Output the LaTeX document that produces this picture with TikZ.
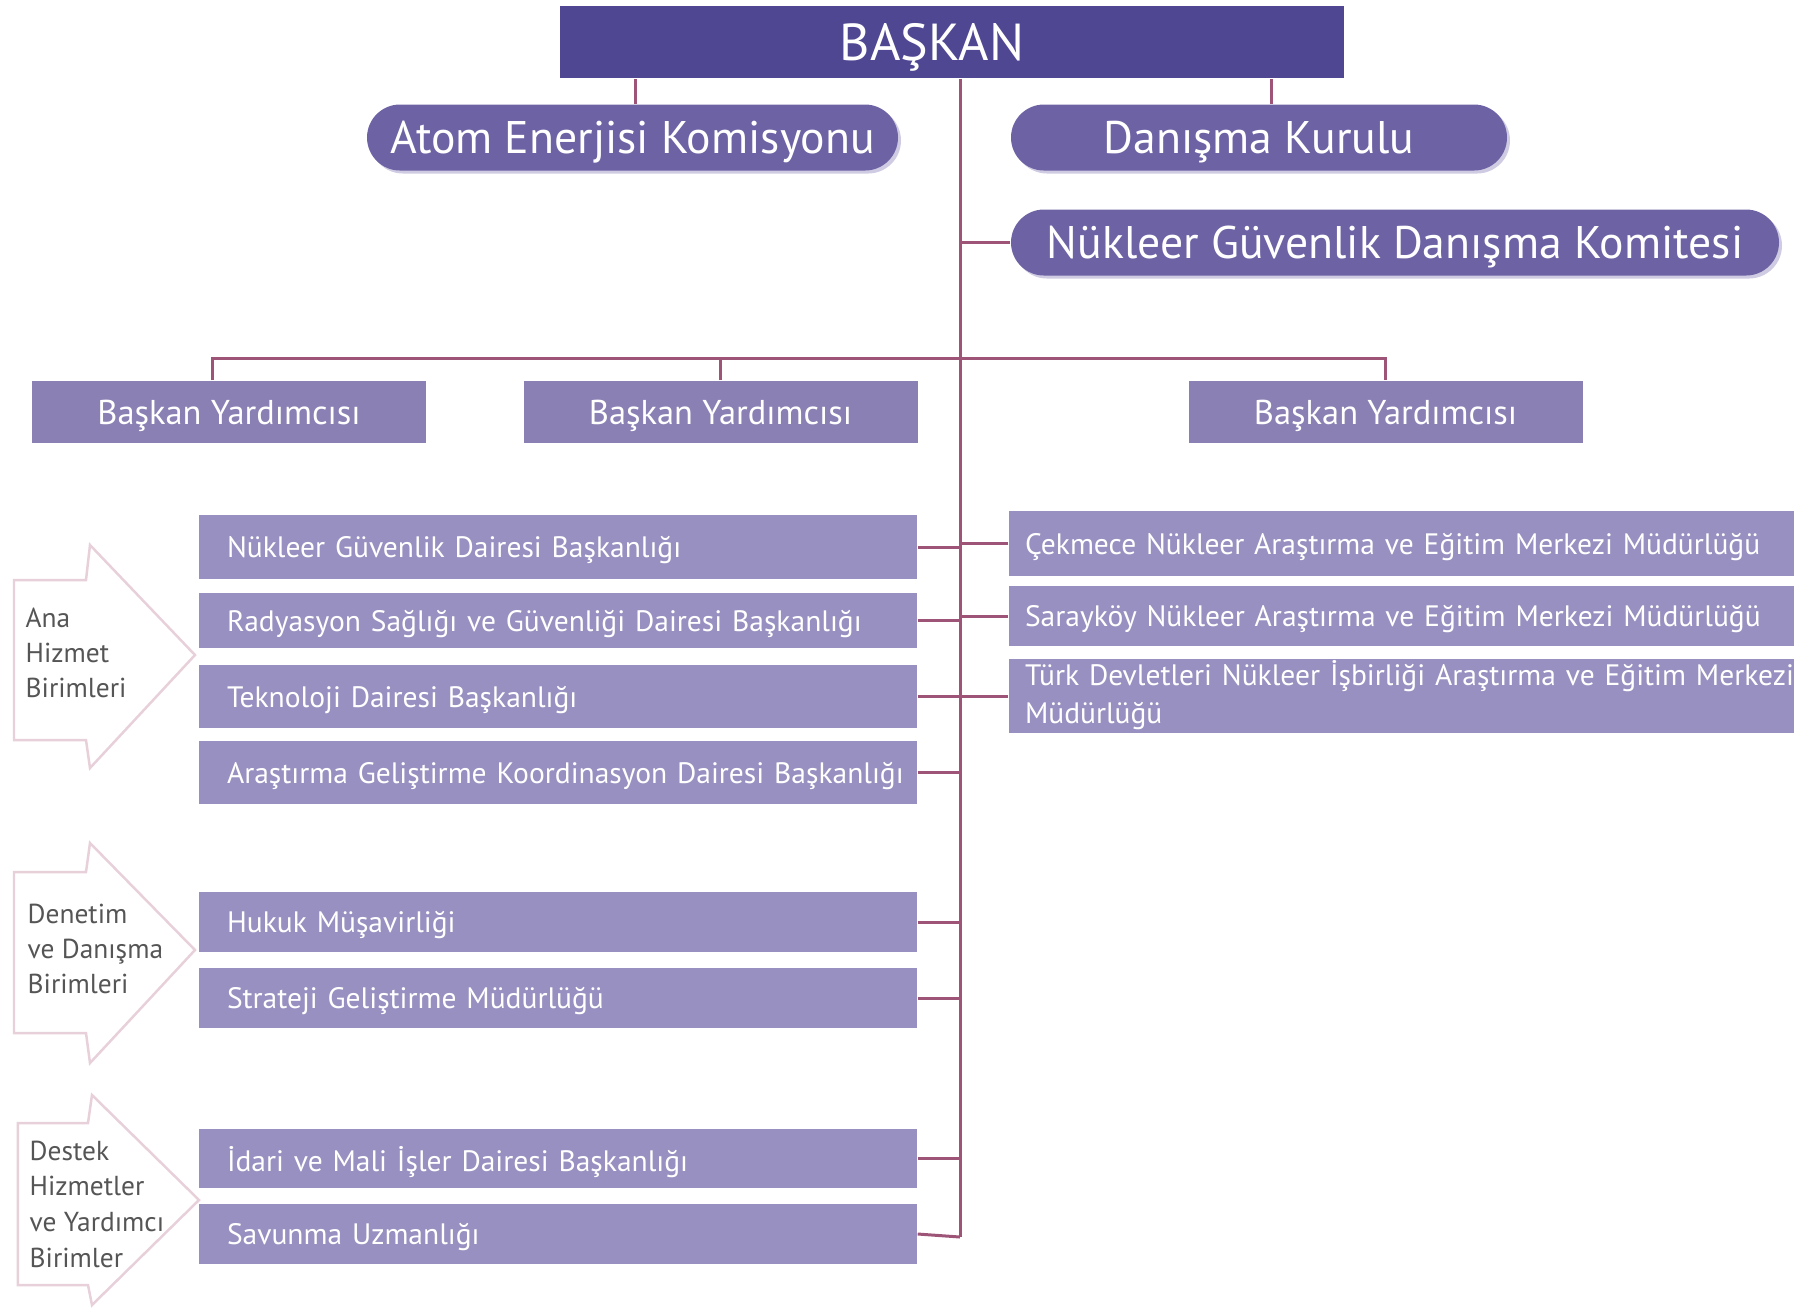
\documentclass[tikz,border=0pt]{standalone}
\usepackage{fontspec}
\setmainfont{PT Sans}
\usetikzlibrary{shadows}
\definecolor{chief}{RGB}{79,71,146}
\definecolor{boardfill}{RGB}{108,98,164}
\definecolor{deputyfill}{RGB}{138,128,180}
\definecolor{unitfill}{RGB}{152,144,192}
\definecolor{wirecol}{RGB}{158,84,118}
\definecolor{halo}{RGB}{207,203,226}
\definecolor{flagline}{RGB}{232,208,218}
\definecolor{flagtext}{RGB}{85,85,85}
\begin{document}
\begin{tikzpicture}
  \tikzstyle{every node}+=[inner sep=0pt, text=white, text depth=0pt]
  \tikzstyle{wire}=[wirecol, line width=0.03cm]
  \tikzstyle{flag}=[draw=flagline, line width=0.025cm]
  \tikzstyle{chiefbox}=[fill=chief, minimum width=7.84cm, minimum height=0.72cm, font=\fontsize{14.8}{17}\selectfont]
  \tikzstyle{boardbox}=[fill=boardfill, rounded corners=0.33cm, minimum height=0.66cm, font=\fontsize{13}{15}\selectfont,
    drop shadow={shadow xshift=0.03cm, shadow yshift=-0.03cm, fill=halo, opacity=1}]
  \tikzstyle{deputybox}=[fill=deputyfill, minimum width=3.94cm, minimum height=0.62cm, font=\fontsize{9.8}{11}\selectfont]
  \tikzstyle{unitbox}=[fill=unitfill, text width=6.62cm, inner xsep=0.28cm, align=left, font=\fontsize{8.4}{10.5}\selectfont]
  \tikzstyle{centrebox}=[fill=unitfill, text width=7.53cm, inner xsep=0.16cm, align=left, font=\fontsize{8.4}{10.8}\selectfont]
  \tikzstyle{flagtext}=[text=flagtext, align=left, anchor=north west, font=\fontsize{7.8}{10}\selectfont]
  \useasboundingbox (0,0) rectangle (18.09,-13.12);
  \node [chiefbox] (baskan) at (9.52,-0.42) {BAŞKAN\hspace*{0.4cm}};
  \node [boardbox, minimum width=5.31cm] (aek) at (6.325,-1.375) {Atom Enerjisi Komisyonu};
  \node [boardbox, minimum width=4.96cm] (dk) at (12.59,-1.375) {Danışma Kurulu};
  \node [boardbox, minimum width=7.68cm] (ngdk) at (13.95,-2.425) {Nükleer Güvenlik Danışma Komitesi};
  \node [deputybox] (by1) at (2.29,-4.12) {Başkan Yardımcısı};
  \node [deputybox] (by2) at (7.205,-4.12) {Başkan Yardımcısı};
  \node [deputybox] (by3) at (13.855,-4.12) {Başkan Yardımcısı};
  \node [unitbox, minimum height=0.64cm] (ngdb) at (5.58,-5.47) {Nükleer Güvenlik Dairesi Başkanlığı};
  \node [unitbox, minimum height=0.55cm] (rsgdb) at (5.58,-6.205) {Radyasyon Sağlığı ve Güvenliği Dairesi Başkanlığı};
  \node [unitbox, minimum height=0.63cm] (tdb) at (5.58,-6.965) {Teknoloji Dairesi Başkanlığı};
  \node [unitbox, minimum height=0.63cm] (agkdb) at (5.58,-7.725) {\mbox{Araştırma Geliştirme Koordinasyon Dairesi Başkanlığı}};
  \node [unitbox, minimum height=0.60cm] (hm) at (5.58,-9.22) {Hukuk Müşavirliği};
  \node [unitbox, minimum height=0.60cm] (sgm) at (5.58,-9.98) {Strateji Geliştirme Müdürlüğü};
  \node [unitbox, minimum height=0.59cm] (imdb) at (5.58,-11.585) {İdari ve Mali İşler Dairesi Başkanlığı};
  \node [unitbox, minimum height=0.60cm] (su) at (5.58,-12.34) {Savunma Uzmanlığı};
  \node [centrebox, minimum height=0.65cm] (cnaem) at (14.015,-5.435) {Çekmece Nükleer Araştırma ve Eğitim Merkezi Müdürlüğü};
  \node [centrebox, minimum height=0.60cm] (snaem) at (14.015,-6.16) {Sarayköy Nükleer Araştırma ve Eğitim Merkezi Müdürlüğü};
  \node [centrebox, minimum height=0.74cm, text depth=0.46cm] (tdnaem) at (14.015,-6.96) {\mbox{Türk Devletleri Nükleer İşbirliği Araştırma ve Eğitim Merkezi}\\Müdürlüğü};
  \coordinate (trunkend) at (9.60,-12.37);
  \coordinate (bus) at (9.60,-3.58);
  \draw [wire] ([xshift=0.03cm]aek.north) -- ([xshift=0.03cm]aek.north |- baskan.south);
  \draw [wire] ([xshift=0.12cm]dk.north) -- ([xshift=0.12cm]dk.north |- baskan.south);
  \draw [wire] (baskan.south -| trunkend) -- (trunkend);
  \draw [wire] (ngdk.west) -- (ngdk.west -| trunkend);
  \draw [wire] ([xshift=-0.17cm]by1.north) |- (bus) -| (by3.north);
  \draw [wire] (by2.north) -- (by2.north |- bus);
  \draw [wire] (ngdb.east) -- (ngdb.east -| trunkend);
  \draw [wire] (rsgdb.east) -- (rsgdb.east -| trunkend);
  \draw [wire] (tdb.east) -- (tdb.east -| trunkend);
  \draw [wire] (agkdb.east) -- (agkdb.east -| trunkend);
  \draw [wire] (hm.east) -- (hm.east -| trunkend);
  \draw [wire] (sgm.east) -- (sgm.east -| trunkend);
  \draw [wire] (imdb.east) -- (imdb.east -| trunkend);
  \draw [wire] (su.east) -- (trunkend);
  \draw [wire] (cnaem.west) -- (cnaem.west -| trunkend);
  \draw [wire] (snaem.west) -- (snaem.west -| trunkend);
  \draw [wire] (tdnaem.west) -- (tdnaem.west -| trunkend);
  \draw [flag] (0.14,-5.80) -- (0.86,-5.80) -- (0.90,-5.45) -- (1.95,-6.55) -- (0.90,-7.68) -- (0.86,-7.40) -- (0.14,-7.40) -- cycle;
  \node [flagtext] (ana) at (0.25,-6.07) {Ana\\Hizmet\\Birimleri};
  \draw [flag] (0.14,-8.72) -- (0.86,-8.72) -- (0.90,-8.43) -- (1.95,-9.50) -- (0.90,-10.63) -- (0.86,-10.33) -- (0.14,-10.33) -- cycle;
  \node [flagtext] (denetim) at (0.27,-9.03) {Denetim\\ve Danışma\\Birimleri};
  \draw [flag] (0.18,-11.23) -- (0.88,-11.23) -- (0.92,-10.95) -- (1.99,-12.00) -- (0.92,-13.05) -- (0.88,-12.85) -- (0.18,-12.85) -- cycle;
  \node [flagtext, font=\fontsize{7.8}{10.2}\selectfont] (destek) at (0.29,-11.40) {Destek\\Hizmetler\\ve Yardımcı\\Birimler};
\end{tikzpicture}
\end{document}
